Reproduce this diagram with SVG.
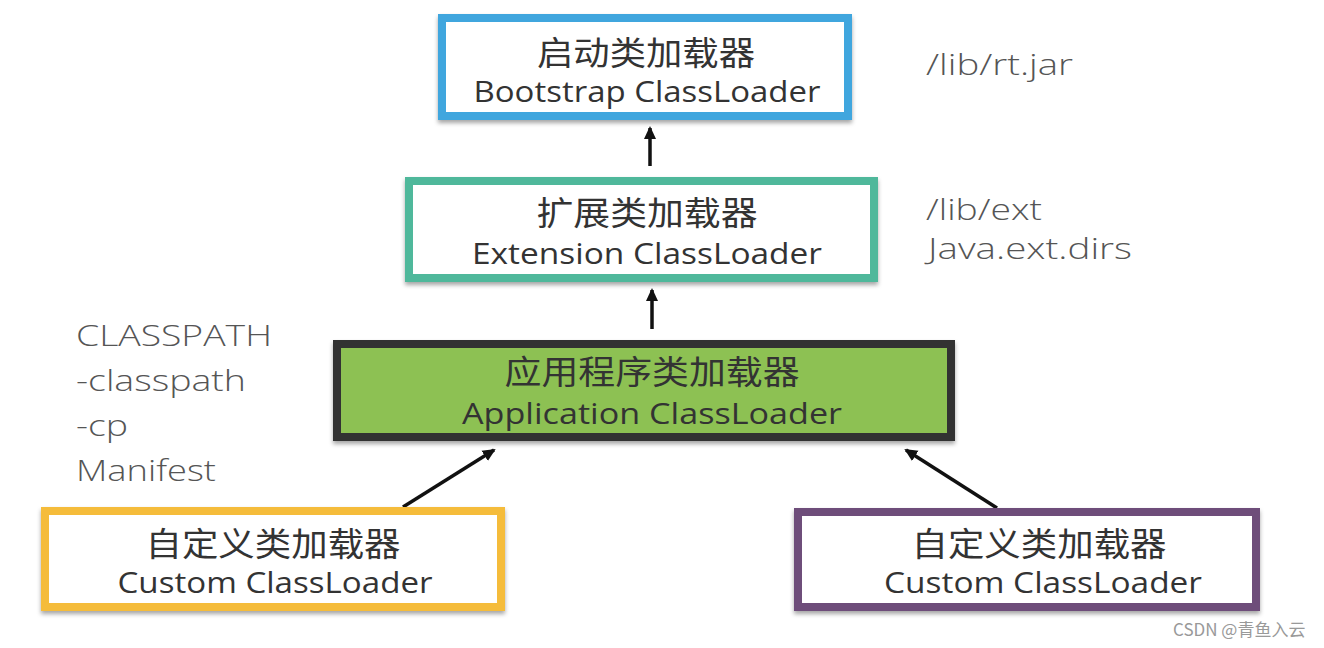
<svg xmlns="http://www.w3.org/2000/svg" width="1324" height="648" viewBox="0 0 1324 648">
<defs>
<filter id="sh" x="-5%" y="-10%" width="110%" height="130%"><feDropShadow dx="0" dy="3" stdDeviation="2" flood-color="#000" flood-opacity="0.35"/></filter>
<marker id="ah" markerWidth="14" markerHeight="14" refX="11" refY="7" orient="auto" markerUnits="userSpaceOnUse"><path d="M0,1 L13,7 L0,13 Z" fill="#111"/></marker>
</defs>
<style>
.box{stroke-width:8;filter:url(#sh)}
.zh{font-family:"Noto Sans CJK SC","Noto Sans",sans-serif;font-size:33px;fill:#333;text-anchor:middle}
.en{font-family:"Open Sans","Noto Sans",sans-serif;font-size:29px;fill:#333;text-anchor:middle}
.side{font-family:"Open Sans","Noto Sans",sans-serif;font-size:29px;fill:#555;font-weight:300}
.conn{stroke:#111;stroke-width:3.5;fill:none;marker-end:url(#ah)}
.wm{font-family:"Noto Sans CJK SC","Liberation Sans",sans-serif;font-size:17px;fill:#999}
</style>
<rect width="1324" height="648" fill="#fff"/>
<g id="connectors">
<line class="conn" x1="650" y1="166" x2="650" y2="128"/>
<line class="conn" x1="652" y1="329" x2="652" y2="290"/>
<line class="conn" x1="403" y1="507" x2="494" y2="450"/>
<line class="conn" x1="997" y1="508" x2="906" y2="450"/>
</g>
<g id="bootstrap">
<rect class="box" x="442" y="18" width="406" height="98" fill="#fff" stroke="#41a6de"/>
<text class="zh" x="646" y="65" textLength="218" lengthAdjust="spacingAndGlyphs">启动类加载器</text>
<text class="en" x="647" y="102" textLength="347" lengthAdjust="spacingAndGlyphs">Bootstrap ClassLoader</text>
</g>
<g id="extension">
<rect class="box" x="409" y="181" width="465" height="97" fill="#fff" stroke="#4fb89b"/>
<text class="zh" x="647" y="225" textLength="221" lengthAdjust="spacingAndGlyphs">扩展类加载器</text>
<text class="en" x="647" y="264" textLength="350" lengthAdjust="spacingAndGlyphs">Extension ClassLoader</text>
</g>
<g id="application">
<rect class="box" x="337" y="344" width="614" height="93" fill="#8dc152" stroke="#333"/>
<text class="zh" x="652" y="384" textLength="295" lengthAdjust="spacingAndGlyphs">应用程序类加载器</text>
<text class="en" x="652" y="424" textLength="380" lengthAdjust="spacingAndGlyphs">Application ClassLoader</text>
</g>
<g id="custom-left">
<rect class="box" x="45" y="511" width="456" height="96" fill="#fff" stroke="#f5bc3a"/>
<text class="zh" x="273" y="556" textLength="255" lengthAdjust="spacingAndGlyphs">自定义类加载器</text>
<text class="en" x="275" y="593" textLength="315" lengthAdjust="spacingAndGlyphs">Custom ClassLoader</text>
</g>
<g id="custom-right">
<rect class="box" x="798" y="512" width="458" height="95" fill="#fff" stroke="#6e4e7a"/>
<text class="zh" x="1039" y="556" textLength="255" lengthAdjust="spacingAndGlyphs">自定义类加载器</text>
<text class="en" x="1043" y="593" textLength="318" lengthAdjust="spacingAndGlyphs">Custom ClassLoader</text>
</g>
<g id="notes">
<text class="side" x="926" y="75" textLength="147" lengthAdjust="spacingAndGlyphs">/lib/rt.jar</text>
<text class="side" x="926" y="220" textLength="116" lengthAdjust="spacingAndGlyphs">/lib/ext</text>
<text class="side" x="928" y="259" textLength="204" lengthAdjust="spacingAndGlyphs">Java.ext.dirs</text>
<text class="side" x="76" y="346" textLength="196" lengthAdjust="spacingAndGlyphs">CLASSPATH</text>
<text class="side" x="76" y="391" textLength="170" lengthAdjust="spacingAndGlyphs">-classpath</text>
<text class="side" x="76" y="436" textLength="52" lengthAdjust="spacingAndGlyphs">-cp</text>
<text class="side" x="76" y="481" textLength="140" lengthAdjust="spacingAndGlyphs">Manifest</text>
</g>
<text class="wm" x="1173" y="636">CSDN @青鱼入云</text>
</svg>
